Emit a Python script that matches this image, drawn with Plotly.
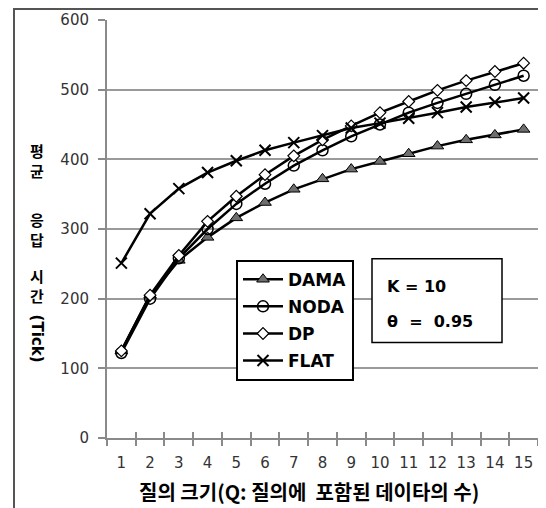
import plotly.graph_objects as go

categories = list(range(1, 16))
tick_labels = [str(c) for c in categories]
dama = [125, 205, 255, 288, 316, 338, 357, 372, 386, 397, 408, 419, 428, 435, 443]
noda = [122, 200, 258, 300, 336, 365, 391, 413, 433, 450, 467, 481, 494, 507, 520]
dp = [125, 205, 262, 311, 347, 378, 405, 428, 448, 467, 483, 499, 513, 526, 538]
flat = [251, 322, 358, 381, 398, 413, 424, 434, 445, 452, 459, 467, 475, 482, 488]
y_ticks = [0, 100, 200, 300, 400, 500, 600]
y_title_pairs = ["평<br>균", "응<br>답", "시<br>간"]
y_title_tail = "(Tick)"
x_title = "질의 크기(Q: 질의에  포함된 데이타의 수)"
param_lines = ["K = 10", "θ  =  0.95"]

FONT = "DejaVu Sans"
KFONT = "Noto Sans CJK KR"
GRID = "#9a9a9a"
AX = "#8a8a8a"

# plot area in page pixels (page has an 8px body offset)
PL, PR, PT, PB = 107, 538, 20, 438.5
W, H = PR - PL, PB - PT


def px(x):
    return (x - PL) / W


def py(y):
    return (PB - y) / H


fig = go.Figure()
series = [
    ("DAMA", dama, dict(symbol="triangle-up", size=11, color="#6e6e6e", line=dict(color="black", width=1))),
    ("NODA", noda, dict(symbol="circle-open", size=11, color="black", line=dict(color="black", width=1.5))),
    ("DP", dp, dict(symbol="diamond", size=9, color="white", line=dict(color="black", width=1.2))),
    ("FLAT", flat, dict(symbol="x-thin", size=11, color="black", line=dict(color="black", width=2))),
]
for name, vals, mk in series:
    fig.add_trace(go.Scatter(
        x=categories, y=vals, name=name, mode="lines+markers",
        line=dict(color="black", width=2.5), marker=mk, legendgroup=name,
    ))
for ax in ["x2", "x3"]:
    fig.add_trace(go.Scatter(x=[categories[0]], y=[0], xaxis=ax, mode="markers",
                             marker=dict(opacity=0), showlegend=False, hoverinfo="skip"))

bounds = [c - 0.5 for c in categories] + [categories[-1] + 0.5]
xr = [bounds[0], bounds[-1]]

fig.update_layout(
    width=546, height=508,
    margin=dict(l=PL - 8, r=546 - (PR - 8), t=PT - 8, b=508 - (PB - 8)),
    paper_bgcolor="white", plot_bgcolor="white",
    showlegend=True,
    legend=dict(
        x=px(236), y=py(260), xanchor="left", yanchor="top",
        bgcolor="white", bordercolor="black", borderwidth=2,
        font=dict(family=FONT, size=17, color="black", weight="bold"),
        tracegroupgap=2, itemwidth=40,
    ),
    xaxis=dict(range=xr, tickmode="array", tickvals=bounds, ticks="outside", ticklen=6,
               tickwidth=2, tickcolor=AX, showticklabels=False, showgrid=False,
               showline=True, linecolor=AX, linewidth=2, zeroline=False, automargin=False),
    xaxis2=dict(range=xr, overlaying="x", anchor="y", side="bottom", tickmode="array",
                tickvals=bounds, ticks="inside", ticklen=6, tickwidth=2, tickcolor=AX,
                showticklabels=False, showgrid=False, showline=False, zeroline=False,
                automargin=False),
    xaxis3=dict(range=xr, overlaying="x", anchor="y", side="bottom", tickmode="array",
                tickvals=categories, ticktext=tick_labels, ticks="outside", ticklen=11,
                tickcolor="rgba(0,0,0,0)", showgrid=False, showline=False, zeroline=False,
                automargin=False,
                tickfont=dict(family=FONT, size=15, color="#333")),
    yaxis=dict(range=[0, 600], tickmode="array", tickvals=y_ticks, ticks="outside", ticklen=7,
               tickwidth=2, tickcolor=AX, showgrid=True, gridcolor=GRID, gridwidth=2,
               showline=True, linecolor=AX, linewidth=2, zeroline=False,
               ticklabelstandoff=6, automargin=False,
               tickfont=dict(family=FONT, size=15, color="#333")),
)

# outer frame
fig.add_shape(type="rect", xref="paper", yref="paper",
              x0=px(14), x1=px(543), y0=py(520), y1=py(9),
              line=dict(color="#555", width=2), layer="below")

# parameter box
fig.add_shape(type="rect", xref="paper", yref="paper",
              x0=px(372), x1=px(502), y0=py(343), y1=py(259),
              line=dict(color="black", width=1.5), fillcolor="white", layer="above")
for txt, yy in zip(param_lines, [287, 322]):
    fig.add_annotation(xref="paper", yref="paper", x=px(385), y=py(yy),
                       xanchor="left", yanchor="middle", showarrow=False, text=txt,
                       font=dict(family=FONT, size=16, color="black", weight="bold"))

# y axis title (stacked characters, two per annotation)
for txt, yy in zip(y_title_pairs, [161, 230, 286]):
    fig.add_annotation(xref="paper", yref="paper", x=px(37), y=py(yy),
                       xanchor="center", yanchor="middle", showarrow=False,
                       text=txt, font=dict(family=KFONT, size=15, color="black", weight="bold"))
fig.add_annotation(xref="paper", yref="paper", x=px(37), y=py(339),
                   xanchor="center", yanchor="middle", showarrow=False,
                   textangle=90, text=y_title_tail,
                   font=dict(family=FONT, size=15, color="black", weight="bold"))

# x axis title
fig.add_annotation(xref="paper", yref="paper", x=px(309), y=py(492),
                   xanchor="center", yanchor="middle",
                   showarrow=False, text=x_title,
                   font=dict(family=KFONT, size=20, color="black", weight="bold"))

fig.write_html("out.html")
